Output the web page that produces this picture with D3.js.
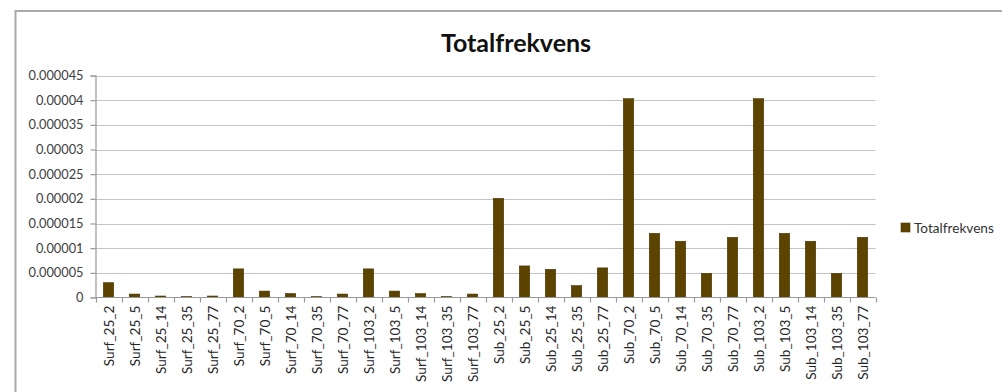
<!DOCTYPE html>
<html>
<head>
<meta charset="utf-8">
<script src="https://cdn.jsdelivr.net/npm/d3@7/dist/d3.min.js"></script>
<style>
  html, body { margin: 0; padding: 0; background: #fff; }
  svg { display: block; }
  text { font-family: Lato, "Open Sans", sans-serif; }
</style>
</head>
<body>
<svg id="chart" width="1002" height="392"></svg>
<script>
// Sample names along the x axis
const categories = [
  "Surf_25_2", "Surf_25_5", "Surf_25_14", "Surf_25_35", "Surf_25_77",
  "Surf_70_2", "Surf_70_5", "Surf_70_14", "Surf_70_35", "Surf_70_77",
  "Surf_103_2", "Surf_103_5", "Surf_103_14", "Surf_103_35", "Surf_103_77",
  "Sub_25_2", "Sub_25_5", "Sub_25_14", "Sub_25_35", "Sub_25_77",
  "Sub_70_2", "Sub_70_5", "Sub_70_14", "Sub_70_35", "Sub_70_77",
  "Sub_103_2", "Sub_103_5", "Sub_103_14", "Sub_103_35", "Sub_103_77"
];

// Total frequency per sample
const totalfrekvens = [
  0.0000030, 0.0000007, 0.0000003, 0.0000002, 0.0000003,
  0.0000058, 0.0000013, 0.0000008, 0.0000002, 0.0000007,
  0.0000058, 0.0000013, 0.0000008, 0.0000002, 0.0000007,
  0.0000201, 0.0000064, 0.0000057, 0.0000024, 0.0000060,
  0.0000403, 0.0000130, 0.0000114, 0.0000049, 0.0000122,
  0.0000403, 0.0000130, 0.0000114, 0.0000049, 0.0000122
];

// Y axis ticks and their printed labels
const yTickValues = [0, 0.000005, 0.00001, 0.000015, 0.00002, 0.000025, 0.00003, 0.000035, 0.00004, 0.000045];
const yTickLabels = ["0", "0.000005", "0.00001", "0.000015", "0.00002", "0.000025", "0.00003", "0.000035", "0.00004", "0.000045"];

const seriesName = "Totalfrekvens";
const barColor = "#5c4300";

const svg = d3.select("#chart");

// Outer chart frame
svg.append("rect")
  .attr("x", 15.5).attr("y", 11)
  .attr("width", 1002).attr("height", 400)
  .attr("fill", "#fff")
  .attr("stroke", "#a9a9a9")
  .attr("stroke-width", 2);

const plot = { left: 95.5, right: 875.5, top: 75.5, bottom: 297.5 };

const x = d3.scaleBand()
  .domain(categories)
  .range([plot.left, plot.right])
  .paddingInner(0.6)
  .paddingOuter(0.3);

const xTicks = d3.scaleBand()
  .domain(categories)
  .range([plot.left, plot.right]);

const y = d3.scaleLinear()
  .domain([0, 0.000045])
  .range([plot.bottom, plot.top]);

// Horizontal gridlines
svg.append("g")
  .selectAll("line")
  .data(yTickValues.slice(1))
  .join("line")
  .attr("x1", plot.left).attr("x2", plot.right)
  .attr("y1", d => Math.round(y(d)) + 0.5)
  .attr("y2", d => Math.round(y(d)) + 0.5)
  .attr("stroke", "#c4c4c4")
  .attr("stroke-width", 1.2);

// Y axis
const yAxis = d3.axisLeft(y)
  .tickValues(yTickValues)
  .tickFormat((d, i) => yTickLabels[i])
  .tickSize(5)
  .tickPadding(7);

const gy = svg.append("g")
  .attr("transform", `translate(${plot.left},0)`)
  .call(yAxis);
gy.select(".domain").attr("stroke", "#999").attr("stroke-width", 1.2);
gy.selectAll(".tick line").attr("stroke", "#999").attr("stroke-width", 1.2);
gy.selectAll(".tick text")
  .attr("font-size", 12.8)
  .attr("fill", "#404040")
  .style("font-family", "Lato, 'Open Sans', sans-serif");

// Bars
svg.append("g")
  .selectAll("rect")
  .data(categories.map((c, i) => ({ c, v: totalfrekvens[i] })))
  .join("rect")
  .attr("x", d => x(d.c))
  .attr("width", x.bandwidth())
  .attr("y", d => y(d.v))
  .attr("height", d => y(0) - y(d.v))
  .attr("fill", barColor)
  .attr("stroke", "#4a3600")
  .attr("stroke-width", 0.6);

// X axis line and category boundary ticks
svg.append("line")
  .attr("x1", plot.left).attr("x2", plot.right)
  .attr("y1", plot.bottom).attr("y2", plot.bottom)
  .attr("stroke", "#999").attr("stroke-width", 1.2);

const boundaries = categories.map(c => xTicks(c)).concat([plot.right]);
svg.append("g")
  .selectAll("line")
  .data(boundaries)
  .join("line")
  .attr("x1", d => Math.round(d) + 0.5).attr("x2", d => Math.round(d) + 0.5)
  .attr("y1", plot.bottom).attr("y2", plot.bottom + 5)
  .attr("stroke", "#999").attr("stroke-width", 1.2);

// Rotated category labels
svg.append("g")
  .selectAll("text")
  .data(categories)
  .join("text")
  .attr("transform", d => `translate(${x(d) + x.bandwidth() / 2 + 5},${plot.bottom + 8}) rotate(-90)`)
  .attr("text-anchor", "end")
  .attr("font-size", 13.6)
  .attr("fill", "#262626")
  .text(d => d);

// Title
svg.append("text")
  .attr("x", 516).attr("y", 52)
  .attr("text-anchor", "middle")
  .attr("font-size", 25)
  .attr("font-weight", "bold")
  .attr("fill", "#111")
  .text(seriesName);

// Legend
const legend = svg.append("g").attr("transform", "translate(901,223)");
legend.append("rect")
  .attr("width", 9).attr("height", 9)
  .attr("fill", barColor)
  .attr("stroke", "#4a3600").attr("stroke-width", 0.6);
legend.append("text")
  .attr("x", 13).attr("y", 9.5)
  .attr("font-size", 13.6)
  .attr("fill", "#333")
  .text(seriesName);
</script>
</body>
</html>
